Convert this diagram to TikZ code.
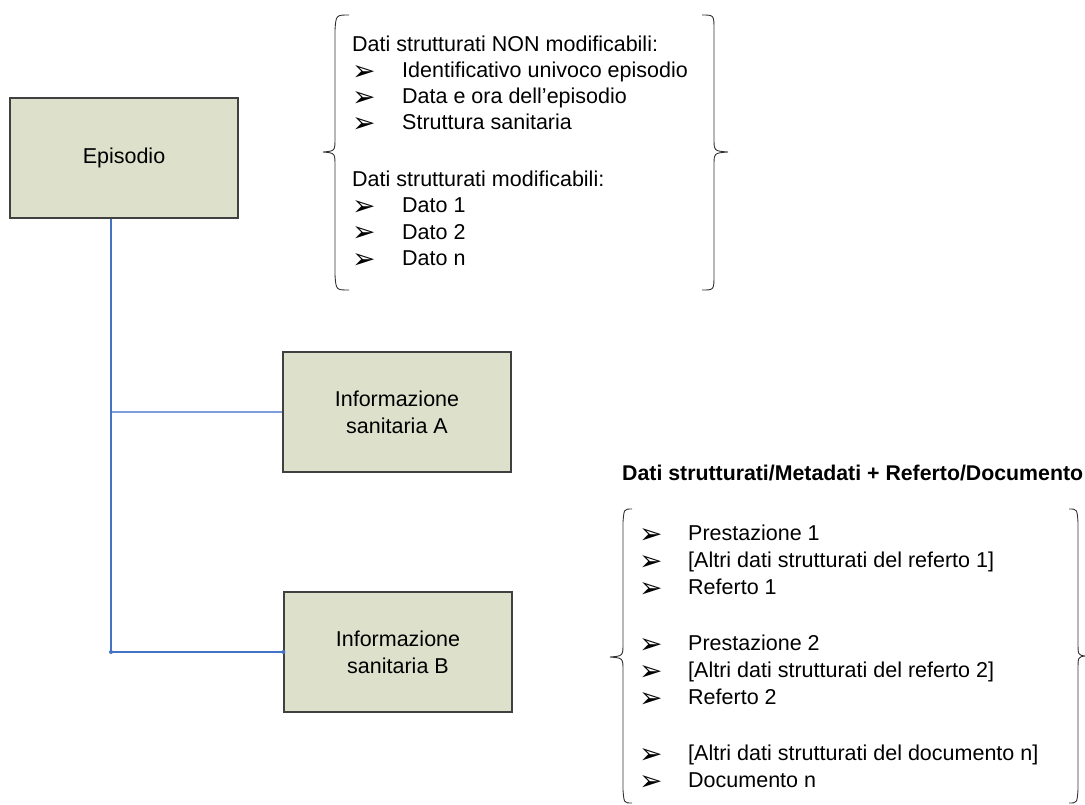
\documentclass[tikz,border=0pt]{standalone}
\usepackage{fontspec}
\setmainfont{Liberation Sans}
\newfontfamily\dejavu{DejaVu Sans}
\definecolor{boxfill}{RGB}{221,224,203}
\definecolor{boxline}{RGB}{64,64,64}
\definecolor{conn}{RGB}{68,114,196}
\definecolor{connlight}{RGB}{125,158,218}
\definecolor{bracecol}{RGB}{50,50,50}
\tikzset{
 infobox/.style={draw=boxline, fill=boxfill, line width=1.1pt, minimum width=228pt, minimum height=120pt, inner sep=0pt, align=center, font=\fontsize{21.5}{27}\selectfont},
 txt/.style={anchor=base west, inner sep=0pt, font=\fontsize{21.5}{26}\selectfont},
 bul/.style={anchor=base west, inner sep=0pt, yshift=-2.5pt, font=\dejavu\fontsize{28}{30}\selectfont},
 hdr/.style={anchor=base west, inner sep=0pt, font=\bfseries\fontsize{21.3}{24}\selectfont},
 bracestyle/.style={draw=bracecol, line width=0.9pt},
 connector/.style={draw=conn, line width=1.2pt},
 connectorlight/.style={draw=connlight, line width=1.1pt},
}
\begin{document}
\begin{tikzpicture}[x=1pt,y=-1pt]
\useasboundingbox (0,0) rectangle (1085,804);
% boxes
\node[infobox] (ep) at (124,158) {Episodio};
\node[infobox] (ia) at (397,412) {Informazione\\sanitaria A};
\node[infobox] (ib) at (398,652) {Informazione\\sanitaria B};
% connectors
\coordinate (epout) at ([xshift=-13pt]ep.south);
\coordinate (ja) at (111,372);
\draw[connectorlight] (ia.west) -| (ja);
\draw[connector] (epout) |- (ib.west);
\fill[conn] (epout |- ib.west) circle (2pt);
\fill[conn] (ib.west) circle (2pt);
% top braces
\draw[bracestyle] (349,15) .. controls (336,15) .. (335,30) -- (335,138) .. controls (335,151) .. (323,152) .. controls (335,153) .. (335,166) -- (335,275) .. controls (336,290) .. (349,290);
\draw[bracestyle] (702,15) .. controls (714,15) .. (714,30) -- (714,138) .. controls (714,151) .. (728,152) .. controls (714,153) .. (714,166) -- (714,275) .. controls (714,290) .. (702,290);
% top list
\node[txt] (t1) at (352,51.5) {Dati strutturati NON modificabili:};
\node[bul] (b2) at (352,77.5) {➢};
\node[txt] (t2) at (402,77.5) {Identificativo univoco episodio};
\node[bul] (b3) at (352,103.5) {➢};
\node[txt] (t3) at (402,103.5) {Data e ora dell’episodio};
\node[bul] (b4) at (352,129.5) {➢};
\node[txt] (t4) at (402,129.5) {Struttura sanitaria};
\node[txt] (t5) at (352,186.5) {Dati strutturati modificabili:};
\node[bul] (b6) at (352,212.5) {➢};
\node[txt] (t6) at (402,212.5) {Dato 1};
\node[bul] (b7) at (352,239) {➢};
\node[txt] (t7) at (402,239) {Dato 2};
\node[bul] (b8) at (352,265.5) {➢};
\node[txt] (t8) at (402,265.5) {Dato n};
% right group
\node[hdr] (hd) at (622,480.5) {Dati strutturati/Metadati + Referto/Documento};
\draw[bracestyle] (632,509) .. controls (624,509) .. (623,522) -- (623,643) .. controls (623,656) .. (610,657) .. controls (623,658) .. (623,671) -- (623,790) .. controls (624,803) .. (632,803);
\draw[bracestyle] (1069,509) .. controls (1077,509) .. (1078,522) -- (1078,642) .. controls (1078,655) .. (1085,656) .. controls (1078,657) .. (1078,670) -- (1078,790) .. controls (1077,803) .. (1069,803);
\node[bul] (rb1) at (639,540.5) {➢};
\node[txt] (r1) at (688,540.5) {Prestazione 1};
\node[bul] (rb2) at (639,567.5) {➢};
\node[txt] (r2) at (688,567.5) {[Altri dati strutturati del referto 1]};
\node[bul] (rb3) at (639,594.5) {➢};
\node[txt] (r3) at (688,594.5) {Referto 1};
\node[bul] (rb4) at (639,650.5) {➢};
\node[txt] (r4) at (688,650.5) {Prestazione 2};
\node[bul] (rb5) at (639,677.5) {➢};
\node[txt] (r5) at (688,677.5) {[Altri dati strutturati del referto 2]};
\node[bul] (rb6) at (639,704.5) {➢};
\node[txt] (r6) at (688,704.5) {Referto 2};
\node[bul] (rb7) at (639,760.5) {➢};
\node[txt] (r7) at (688,760.5) {[Altri dati strutturati del documento n]};
\node[bul] (rb8) at (639,787.5) {➢};
\node[txt] (r8) at (688,787.5) {Documento n};
\end{tikzpicture}
\end{document}
